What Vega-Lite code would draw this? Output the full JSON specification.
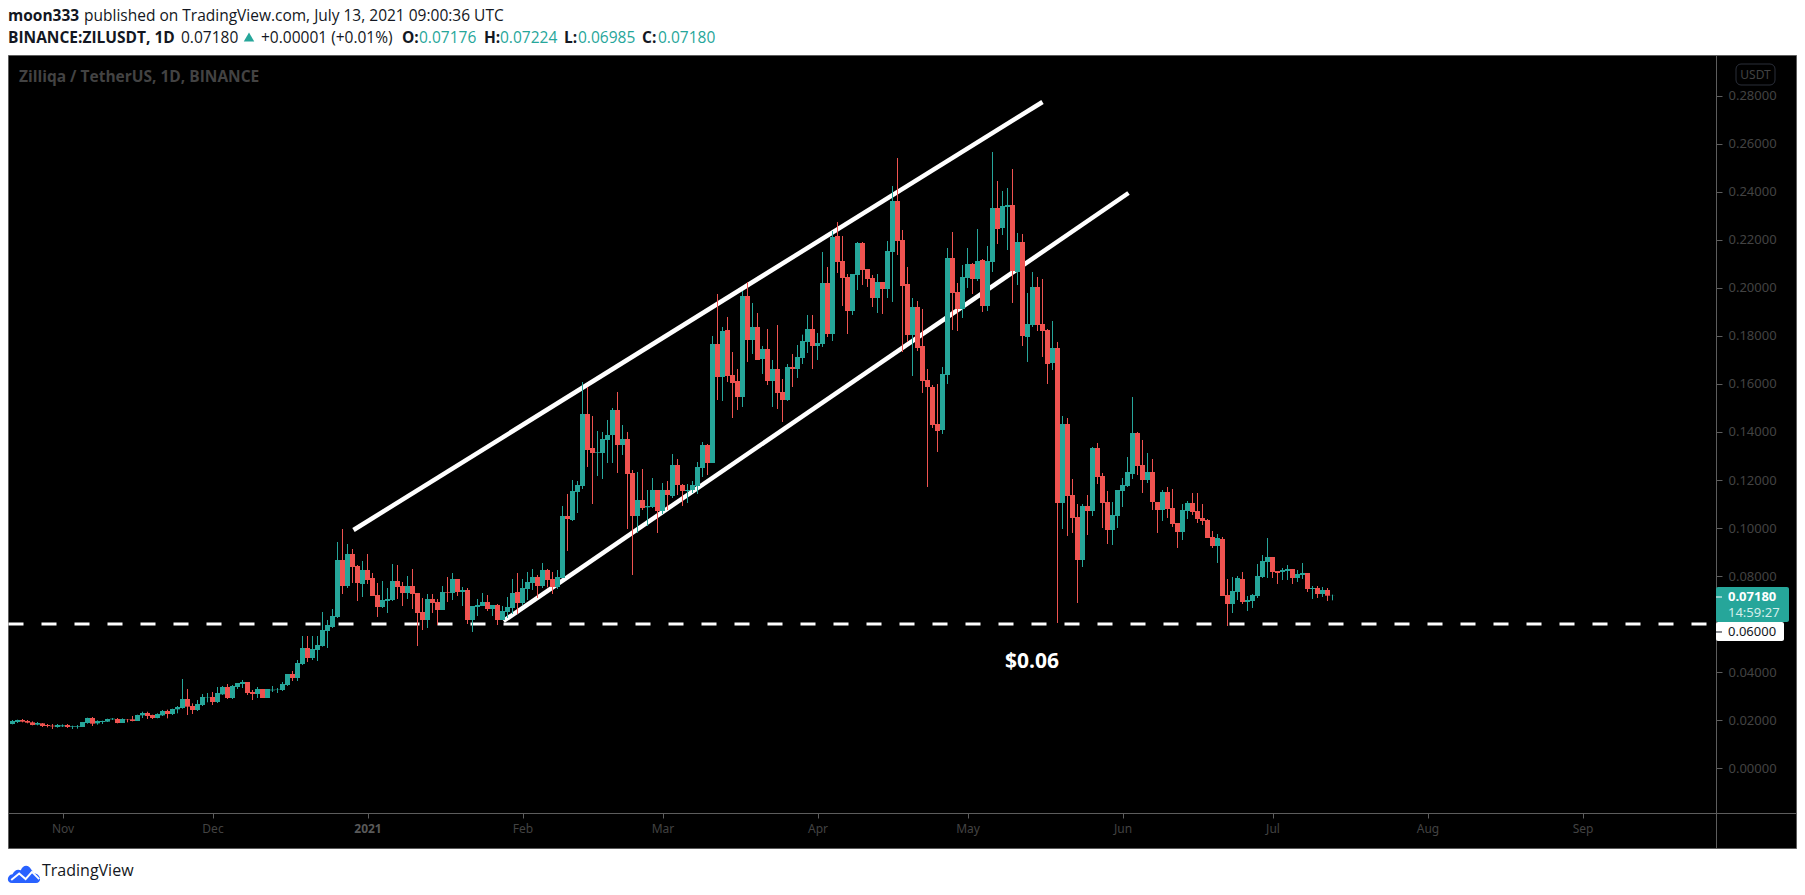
{
"$schema":"https://vega.github.io/schema/vega-lite/v6.json",
"width":1788,"height":793,
"autosize":{"type":"none"},
"padding":{"left":8,"top":55,"right":9,"bottom":47},
"background":"#ffffff",
"view":{"fill":"#000000","stroke":"#5d5d5d","strokeWidth":1},
"config":{"font":"Noto Sans"},
"datasets":{
"candles":[
{"date":"2020-10-22","o":0.01833,"h":0.02,"l":0.01819,"c":0.01958},
{"date":"2020-10-23","o":0.01917,"h":0.02014,"l":0.01875,"c":0.02},
{"date":"2020-10-24","o":0.02,"h":0.02042,"l":0.01903,"c":0.01931},
{"date":"2020-10-25","o":0.01958,"h":0.02,"l":0.01861,"c":0.01889},
{"date":"2020-10-26","o":0.01903,"h":0.01944,"l":0.01778,"c":0.01792},
{"date":"2020-10-27","o":0.01806,"h":0.01917,"l":0.01778,"c":0.01875},
{"date":"2020-10-28","o":0.01861,"h":0.01875,"l":0.01708,"c":0.0175},
{"date":"2020-10-29","o":0.01792,"h":0.01833,"l":0.01694,"c":0.0175},
{"date":"2020-10-30","o":0.01764,"h":0.01833,"l":0.01625,"c":0.01736},
{"date":"2020-10-31","o":0.01708,"h":0.01833,"l":0.01681,"c":0.01792},
{"date":"2020-11-01","o":0.01736,"h":0.01819,"l":0.01708,"c":0.01778},
{"date":"2020-11-02","o":0.01792,"h":0.01833,"l":0.01667,"c":0.01708},
{"date":"2020-11-03","o":0.01722,"h":0.01764,"l":0.01625,"c":0.0175},
{"date":"2020-11-04","o":0.01722,"h":0.01792,"l":0.01639,"c":0.0175},
{"date":"2020-11-05","o":0.01708,"h":0.01917,"l":0.01708,"c":0.01917},
{"date":"2020-11-06","o":0.01875,"h":0.02097,"l":0.01847,"c":0.02083},
{"date":"2020-11-07","o":0.02083,"h":0.02125,"l":0.0175,"c":0.01847},
{"date":"2020-11-08","o":0.01861,"h":0.01986,"l":0.01806,"c":0.01958},
{"date":"2020-11-09","o":0.01917,"h":0.01972,"l":0.01833,"c":0.01958},
{"date":"2020-11-10","o":0.01931,"h":0.02056,"l":0.01917,"c":0.02042},
{"date":"2020-11-11","o":0.02028,"h":0.02083,"l":0.02,"c":0.02056},
{"date":"2020-11-12","o":0.02042,"h":0.02083,"l":0.01861,"c":0.01875},
{"date":"2020-11-13","o":0.01875,"h":0.02069,"l":0.01875,"c":0.02042},
{"date":"2020-11-14","o":0.02042,"h":0.02042,"l":0.01903,"c":0.02028},
{"date":"2020-11-15","o":0.02028,"h":0.02167,"l":0.01944,"c":0.01958},
{"date":"2020-11-16","o":0.01958,"h":0.02222,"l":0.01958,"c":0.02208},
{"date":"2020-11-17","o":0.02194,"h":0.02347,"l":0.02083,"c":0.02292},
{"date":"2020-11-18","o":0.02292,"h":0.02347,"l":0.02042,"c":0.02167},
{"date":"2020-11-19","o":0.02208,"h":0.02222,"l":0.02042,"c":0.02083},
{"date":"2020-11-20","o":0.02083,"h":0.02278,"l":0.02069,"c":0.0225},
{"date":"2020-11-21","o":0.02194,"h":0.02417,"l":0.02167,"c":0.02375},
{"date":"2020-11-22","o":0.02375,"h":0.02431,"l":0.02069,"c":0.0225},
{"date":"2020-11-23","o":0.0225,"h":0.02472,"l":0.02208,"c":0.02458},
{"date":"2020-11-24","o":0.02444,"h":0.02583,"l":0.02278,"c":0.02542},
{"date":"2020-11-25","o":0.025,"h":0.03708,"l":0.02472,"c":0.02875},
{"date":"2020-11-26","o":0.02875,"h":0.03292,"l":0.02208,"c":0.02556},
{"date":"2020-11-27","o":0.02583,"h":0.02694,"l":0.0225,"c":0.02417},
{"date":"2020-11-28","o":0.02417,"h":0.02833,"l":0.02375,"c":0.02667},
{"date":"2020-11-29","o":0.02625,"h":0.03083,"l":0.02583,"c":0.02958},
{"date":"2020-11-30","o":0.02944,"h":0.03125,"l":0.02736,"c":0.02958},
{"date":"2020-12-01","o":0.02958,"h":0.03167,"l":0.02625,"c":0.0275},
{"date":"2020-12-02","o":0.0275,"h":0.03375,"l":0.02708,"c":0.03125},
{"date":"2020-12-03","o":0.03069,"h":0.03417,"l":0.03042,"c":0.03375},
{"date":"2020-12-04","o":0.03375,"h":0.035,"l":0.02875,"c":0.02917},
{"date":"2020-12-05","o":0.02917,"h":0.03458,"l":0.02875,"c":0.03417},
{"date":"2020-12-06","o":0.03375,"h":0.03542,"l":0.03292,"c":0.03542},
{"date":"2020-12-07","o":0.035,"h":0.03667,"l":0.03333,"c":0.03583},
{"date":"2020-12-08","o":0.03583,"h":0.03583,"l":0.03042,"c":0.03125},
{"date":"2020-12-09","o":0.03167,"h":0.0325,"l":0.02833,"c":0.03083},
{"date":"2020-12-10","o":0.03083,"h":0.03375,"l":0.02917,"c":0.03292},
{"date":"2020-12-11","o":0.03292,"h":0.03292,"l":0.02917,"c":0.02917},
{"date":"2020-12-12","o":0.02917,"h":0.03292,"l":0.02917,"c":0.03292},
{"date":"2020-12-13","o":0.03236,"h":0.03417,"l":0.03167,"c":0.03264},
{"date":"2020-12-14","o":0.0325,"h":0.03333,"l":0.03125,"c":0.03264},
{"date":"2020-12-15","o":0.0325,"h":0.03583,"l":0.03208,"c":0.035},
{"date":"2020-12-16","o":0.03458,"h":0.03917,"l":0.03417,"c":0.03917},
{"date":"2020-12-17","o":0.03917,"h":0.04042,"l":0.03625,"c":0.0375},
{"date":"2020-12-18","o":0.0375,"h":0.045,"l":0.03625,"c":0.04375},
{"date":"2020-12-19","o":0.04333,"h":0.055,"l":0.04292,"c":0.05},
{"date":"2020-12-20","o":0.05,"h":0.055,"l":0.04417,"c":0.04583},
{"date":"2020-12-21","o":0.04583,"h":0.055,"l":0.045,"c":0.04958},
{"date":"2020-12-22","o":0.04917,"h":0.055,"l":0.04458,"c":0.05125},
{"date":"2020-12-23","o":0.05083,"h":0.065,"l":0.05056,"c":0.0575},
{"date":"2020-12-24","o":0.05708,"h":0.06167,"l":0.05,"c":0.05958},
{"date":"2020-12-25","o":0.05875,"h":0.06625,"l":0.05833,"c":0.06333},
{"date":"2020-12-26","o":0.06292,"h":0.09417,"l":0.0625,"c":0.08667},
{"date":"2020-12-27","o":0.08667,"h":0.09958,"l":0.0725,"c":0.07583},
{"date":"2020-12-28","o":0.07583,"h":0.09333,"l":0.075,"c":0.08917},
{"date":"2020-12-29","o":0.08917,"h":0.09125,"l":0.07708,"c":0.08375},
{"date":"2020-12-30","o":0.08417,"h":0.08458,"l":0.06958,"c":0.07708},
{"date":"2020-12-31","o":0.07667,"h":0.08625,"l":0.07125,"c":0.0825},
{"date":"2021-01-01","o":0.0825,"h":0.08917,"l":0.07667,"c":0.07833},
{"date":"2021-01-02","o":0.07917,"h":0.08125,"l":0.07167,"c":0.07167},
{"date":"2021-01-03","o":0.07208,"h":0.07708,"l":0.06292,"c":0.06708},
{"date":"2021-01-04","o":0.06708,"h":0.07792,"l":0.06667,"c":0.07},
{"date":"2021-01-05","o":0.06958,"h":0.075,"l":0.06458,"c":0.07042},
{"date":"2021-01-06","o":0.07,"h":0.085,"l":0.06958,"c":0.07792},
{"date":"2021-01-07","o":0.07792,"h":0.08458,"l":0.07042,"c":0.07542},
{"date":"2021-01-08","o":0.07583,"h":0.0775,"l":0.0675,"c":0.07292},
{"date":"2021-01-09","o":0.07292,"h":0.08,"l":0.07042,"c":0.07583},
{"date":"2021-01-10","o":0.07583,"h":0.08292,"l":0.06625,"c":0.0725},
{"date":"2021-01-11","o":0.07292,"h":0.07292,"l":0.05083,"c":0.06458},
{"date":"2021-01-12","o":0.065,"h":0.07083,"l":0.0575,"c":0.06167},
{"date":"2021-01-13","o":0.06167,"h":0.0725,"l":0.05833,"c":0.07042},
{"date":"2021-01-14","o":0.07042,"h":0.0725,"l":0.06458,"c":0.06875},
{"date":"2021-01-15","o":0.06917,"h":0.07042,"l":0.05958,"c":0.06583},
{"date":"2021-01-16","o":0.06583,"h":0.07583,"l":0.06583,"c":0.07333},
{"date":"2021-01-17","o":0.07333,"h":0.07958,"l":0.06917,"c":0.07306},
{"date":"2021-01-18","o":0.07292,"h":0.08125,"l":0.07,"c":0.07875},
{"date":"2021-01-19","o":0.07875,"h":0.07875,"l":0.07167,"c":0.07333},
{"date":"2021-01-20","o":0.07333,"h":0.07542,"l":0.0675,"c":0.07417},
{"date":"2021-01-21","o":0.07417,"h":0.075,"l":0.06,"c":0.06167},
{"date":"2021-01-22","o":0.06167,"h":0.0675,"l":0.05667,"c":0.0675},
{"date":"2021-01-23","o":0.06708,"h":0.07042,"l":0.06333,"c":0.06792},
{"date":"2021-01-24","o":0.0675,"h":0.07292,"l":0.0675,"c":0.06917},
{"date":"2021-01-25","o":0.06917,"h":0.07208,"l":0.06542,"c":0.06625},
{"date":"2021-01-26","o":0.06625,"h":0.06792,"l":0.06333,"c":0.06792},
{"date":"2021-01-27","o":0.06792,"h":0.06833,"l":0.05958,"c":0.06167},
{"date":"2021-01-28","o":0.06167,"h":0.0675,"l":0.06167,"c":0.06542},
{"date":"2021-01-29","o":0.065,"h":0.07125,"l":0.0625,"c":0.06708},
{"date":"2021-01-30","o":0.06667,"h":0.07875,"l":0.06417,"c":0.07292},
{"date":"2021-01-31","o":0.07333,"h":0.08125,"l":0.06417,"c":0.06875},
{"date":"2021-02-01","o":0.06875,"h":0.07875,"l":0.06792,"c":0.075},
{"date":"2021-02-02","o":0.07458,"h":0.08167,"l":0.07,"c":0.0775},
{"date":"2021-02-03","o":0.07708,"h":0.08292,"l":0.07417,"c":0.07958},
{"date":"2021-02-04","o":0.07958,"h":0.08042,"l":0.07083,"c":0.07583},
{"date":"2021-02-05","o":0.07583,"h":0.08542,"l":0.075,"c":0.0825},
{"date":"2021-02-06","o":0.0825,"h":0.08292,"l":0.07528,"c":0.07833},
{"date":"2021-02-07","o":0.07875,"h":0.08167,"l":0.0725,"c":0.07542},
{"date":"2021-02-08","o":0.07542,"h":0.0825,"l":0.07458,"c":0.07958},
{"date":"2021-02-09","o":0.07917,"h":0.10917,"l":0.07917,"c":0.105},
{"date":"2021-02-10","o":0.105,"h":0.11417,"l":0.09042,"c":0.10375},
{"date":"2021-02-11","o":0.10333,"h":0.12,"l":0.10292,"c":0.11542},
{"date":"2021-02-12","o":0.115,"h":0.11958,"l":0.10625,"c":0.11792},
{"date":"2021-02-13","o":0.1175,"h":0.16083,"l":0.11625,"c":0.1475},
{"date":"2021-02-14","o":0.1475,"h":0.15875,"l":0.12542,"c":0.1325},
{"date":"2021-02-15","o":0.13333,"h":0.14667,"l":0.11,"c":0.13125},
{"date":"2021-02-16","o":0.13139,"h":0.14042,"l":0.12167,"c":0.13167},
{"date":"2021-02-17","o":0.13125,"h":0.14,"l":0.12042,"c":0.13708},
{"date":"2021-02-18","o":0.13667,"h":0.145,"l":0.12708,"c":0.13875},
{"date":"2021-02-19","o":0.13875,"h":0.15,"l":0.12708,"c":0.14917},
{"date":"2021-02-20","o":0.14917,"h":0.15667,"l":0.12292,"c":0.13458},
{"date":"2021-02-21","o":0.13458,"h":0.14292,"l":0.13042,"c":0.13708},
{"date":"2021-02-22","o":0.13708,"h":0.14,"l":0.09958,"c":0.1225},
{"date":"2021-02-23","o":0.12292,"h":0.12417,"l":0.08042,"c":0.105},
{"date":"2021-02-24","o":0.105,"h":0.12333,"l":0.09792,"c":0.11167},
{"date":"2021-02-25","o":0.11167,"h":0.12458,"l":0.1075,"c":0.10833},
{"date":"2021-02-26","o":0.10861,"h":0.11583,"l":0.10083,"c":0.10917},
{"date":"2021-02-27","o":0.10875,"h":0.12083,"l":0.10833,"c":0.11583},
{"date":"2021-02-28","o":0.11583,"h":0.11583,"l":0.09792,"c":0.10708},
{"date":"2021-03-01","o":0.10708,"h":0.11875,"l":0.10583,"c":0.11583},
{"date":"2021-03-02","o":0.11583,"h":0.11958,"l":0.1075,"c":0.11375},
{"date":"2021-03-03","o":0.11333,"h":0.13083,"l":0.1125,"c":0.12625},
{"date":"2021-03-04","o":0.12625,"h":0.12875,"l":0.11375,"c":0.11792},
{"date":"2021-03-05","o":0.11792,"h":0.11833,"l":0.10917,"c":0.11542},
{"date":"2021-03-06","o":0.11542,"h":0.11833,"l":0.11042,"c":0.11583},
{"date":"2021-03-07","o":0.11583,"h":0.11958,"l":0.11458,"c":0.11792},
{"date":"2021-03-08","o":0.1175,"h":0.1275,"l":0.11417,"c":0.12542},
{"date":"2021-03-09","o":0.125,"h":0.13583,"l":0.12125,"c":0.13458},
{"date":"2021-03-10","o":0.13458,"h":0.135,"l":0.12208,"c":0.12708},
{"date":"2021-03-11","o":0.12708,"h":0.18,"l":0.12708,"c":0.17667},
{"date":"2021-03-12","o":0.17667,"h":0.1975,"l":0.15333,"c":0.16292},
{"date":"2021-03-13","o":0.16292,"h":0.18375,"l":0.15292,"c":0.18208},
{"date":"2021-03-14","o":0.1825,"h":0.18792,"l":0.16083,"c":0.16333},
{"date":"2021-03-15","o":0.16375,"h":0.17333,"l":0.14583,"c":0.16042},
{"date":"2021-03-16","o":0.16125,"h":0.16625,"l":0.14917,"c":0.15458},
{"date":"2021-03-17","o":0.15458,"h":0.19875,"l":0.15042,"c":0.19667},
{"date":"2021-03-18","o":0.19667,"h":0.2025,"l":0.16917,"c":0.17833},
{"date":"2021-03-19","o":0.17833,"h":0.19375,"l":0.1725,"c":0.18375},
{"date":"2021-03-20","o":0.18375,"h":0.18958,"l":0.17,"c":0.17},
{"date":"2021-03-21","o":0.17042,"h":0.17583,"l":0.16417,"c":0.17458},
{"date":"2021-03-22","o":0.17458,"h":0.18292,"l":0.15958,"c":0.16125},
{"date":"2021-03-23","o":0.16125,"h":0.17,"l":0.15042,"c":0.16625},
{"date":"2021-03-24","o":0.16625,"h":0.18458,"l":0.14958,"c":0.15625},
{"date":"2021-03-25","o":0.15667,"h":0.16208,"l":0.14417,"c":0.15333},
{"date":"2021-03-26","o":0.15333,"h":0.16833,"l":0.15292,"c":0.16708},
{"date":"2021-03-27","o":0.16708,"h":0.1725,"l":0.15875,"c":0.16625},
{"date":"2021-03-28","o":0.16625,"h":0.17625,"l":0.1625,"c":0.17125},
{"date":"2021-03-29","o":0.17083,"h":0.18056,"l":0.16833,"c":0.17792},
{"date":"2021-03-30","o":0.1775,"h":0.18875,"l":0.17292,"c":0.18292},
{"date":"2021-03-31","o":0.18292,"h":0.18875,"l":0.16625,"c":0.17583},
{"date":"2021-04-01","o":0.17583,"h":0.18125,"l":0.17,"c":0.17708},
{"date":"2021-04-02","o":0.17667,"h":0.215,"l":0.17542,"c":0.20208},
{"date":"2021-04-03","o":0.20208,"h":0.20875,"l":0.17958,"c":0.18083},
{"date":"2021-04-04","o":0.18083,"h":0.22375,"l":0.17792,"c":0.22125},
{"date":"2021-04-05","o":0.22167,"h":0.2275,"l":0.20625,"c":0.21083},
{"date":"2021-04-06","o":0.21125,"h":0.22167,"l":0.1925,"c":0.20417},
{"date":"2021-04-07","o":0.20458,"h":0.20583,"l":0.18083,"c":0.19042},
{"date":"2021-04-08","o":0.19042,"h":0.20583,"l":0.18875,"c":0.20583},
{"date":"2021-04-09","o":0.20542,"h":0.21917,"l":0.19917,"c":0.21875},
{"date":"2021-04-10","o":0.21875,"h":0.21917,"l":0.20125,"c":0.2075},
{"date":"2021-04-11","o":0.20792,"h":0.20792,"l":0.20042,"c":0.20375},
{"date":"2021-04-12","o":0.20417,"h":0.20542,"l":0.19208,"c":0.19583},
{"date":"2021-04-13","o":0.19583,"h":0.20583,"l":0.18958,"c":0.2025},
{"date":"2021-04-14","o":0.2025,"h":0.2025,"l":0.18917,"c":0.19958},
{"date":"2021-04-15","o":0.19958,"h":0.21958,"l":0.19583,"c":0.21542},
{"date":"2021-04-16","o":0.215,"h":0.2425,"l":0.19417,"c":0.23625},
{"date":"2021-04-17","o":0.23625,"h":0.25417,"l":0.21375,"c":0.21958},
{"date":"2021-04-18","o":0.22,"h":0.22417,"l":0.17333,"c":0.20083},
{"date":"2021-04-19","o":0.20167,"h":0.20875,"l":0.1775,"c":0.18042},
{"date":"2021-04-20","o":0.18042,"h":0.19583,"l":0.16333,"c":0.19208},
{"date":"2021-04-21","o":0.19208,"h":0.19458,"l":0.17375,"c":0.175},
{"date":"2021-04-22","o":0.17583,"h":0.19125,"l":0.15625,"c":0.16125},
{"date":"2021-04-23","o":0.16167,"h":0.16625,"l":0.11708,"c":0.15875},
{"date":"2021-04-24","o":0.15875,"h":0.15958,"l":0.14167,"c":0.14292},
{"date":"2021-04-25","o":0.14333,"h":0.16,"l":0.13167,"c":0.14042},
{"date":"2021-04-26","o":0.14083,"h":0.16708,"l":0.13917,"c":0.16417},
{"date":"2021-04-27","o":0.16375,"h":0.21667,"l":0.16,"c":0.2125},
{"date":"2021-04-28","o":0.2125,"h":0.22333,"l":0.1825,"c":0.19792},
{"date":"2021-04-29","o":0.19833,"h":0.20208,"l":0.18208,"c":0.19125},
{"date":"2021-04-30","o":0.19125,"h":0.20958,"l":0.1875,"c":0.20458},
{"date":"2021-05-01","o":0.20417,"h":0.21667,"l":0.2,"c":0.21},
{"date":"2021-05-02","o":0.21,"h":0.21042,"l":0.1975,"c":0.20375},
{"date":"2021-05-03","o":0.20375,"h":0.22458,"l":0.20292,"c":0.21125},
{"date":"2021-05-04","o":0.21167,"h":0.21208,"l":0.19,"c":0.1925},
{"date":"2021-05-05","o":0.1925,"h":0.2175,"l":0.19042,"c":0.21125},
{"date":"2021-05-06","o":0.21083,"h":0.25667,"l":0.20667,"c":0.23333},
{"date":"2021-05-07","o":0.23333,"h":0.24458,"l":0.21833,"c":0.22458},
{"date":"2021-05-08","o":0.225,"h":0.24042,"l":0.22208,"c":0.23417},
{"date":"2021-05-09","o":0.23375,"h":0.24167,"l":0.21583,"c":0.23458},
{"date":"2021-05-10","o":0.23458,"h":0.24958,"l":0.19375,"c":0.20708},
{"date":"2021-05-11","o":0.20667,"h":0.22292,"l":0.20125,"c":0.21917},
{"date":"2021-05-12","o":0.21917,"h":0.2225,"l":0.17583,"c":0.18},
{"date":"2021-05-13","o":0.17958,"h":0.19792,"l":0.16917,"c":0.185},
{"date":"2021-05-14","o":0.18458,"h":0.20667,"l":0.18375,"c":0.20042},
{"date":"2021-05-15","o":0.20042,"h":0.20458,"l":0.18208,"c":0.18458},
{"date":"2021-05-16","o":0.185,"h":0.20375,"l":0.17125,"c":0.18208},
{"date":"2021-05-17","o":0.1825,"h":0.18292,"l":0.16,"c":0.16833},
{"date":"2021-05-18","o":0.16875,"h":0.18625,"l":0.16583,"c":0.175},
{"date":"2021-05-19","o":0.175,"h":0.1775,"l":0.06042,"c":0.11042},
{"date":"2021-05-20","o":0.11042,"h":0.14667,"l":0.09958,"c":0.14333},
{"date":"2021-05-21","o":0.14333,"h":0.14583,"l":0.09667,"c":0.11333},
{"date":"2021-05-22","o":0.11375,"h":0.12042,"l":0.09792,"c":0.10417},
{"date":"2021-05-23","o":0.10458,"h":0.11,"l":0.06875,"c":0.08667},
{"date":"2021-05-24","o":0.08667,"h":0.11,"l":0.08375,"c":0.10917},
{"date":"2021-05-25","o":0.10917,"h":0.11375,"l":0.09708,"c":0.10708},
{"date":"2021-05-26","o":0.10708,"h":0.13375,"l":0.105,"c":0.13333},
{"date":"2021-05-27","o":0.13333,"h":0.13542,"l":0.11833,"c":0.12125},
{"date":"2021-05-28","o":0.12167,"h":0.12292,"l":0.1,"c":0.11042},
{"date":"2021-05-29","o":0.11083,"h":0.11542,"l":0.09333,"c":0.09917},
{"date":"2021-05-30","o":0.09917,"h":0.11083,"l":0.09292,"c":0.10542},
{"date":"2021-05-31","o":0.105,"h":0.11583,"l":0.1,"c":0.11583},
{"date":"2021-06-01","o":0.11542,"h":0.12083,"l":0.10875,"c":0.11792},
{"date":"2021-06-02","o":0.1175,"h":0.12958,"l":0.11708,"c":0.12333},
{"date":"2021-06-03","o":0.1225,"h":0.15458,"l":0.12042,"c":0.13958},
{"date":"2021-06-04","o":0.13958,"h":0.14,"l":0.12208,"c":0.12583},
{"date":"2021-06-05","o":0.12625,"h":0.13667,"l":0.11458,"c":0.12},
{"date":"2021-06-06","o":0.12,"h":0.13125,"l":0.11875,"c":0.12333},
{"date":"2021-06-07","o":0.12333,"h":0.12875,"l":0.1075,"c":0.11083},
{"date":"2021-06-08","o":0.11083,"h":0.11083,"l":0.09792,"c":0.1075},
{"date":"2021-06-09","o":0.1075,"h":0.11583,"l":0.10292,"c":0.115},
{"date":"2021-06-10","o":0.115,"h":0.11708,"l":0.10417,"c":0.10792},
{"date":"2021-06-11","o":0.10833,"h":0.11625,"l":0.10042,"c":0.10167},
{"date":"2021-06-12","o":0.10208,"h":0.10208,"l":0.09167,"c":0.09833},
{"date":"2021-06-13","o":0.09833,"h":0.11,"l":0.095,"c":0.1075},
{"date":"2021-06-14","o":0.10708,"h":0.11125,"l":0.10375,"c":0.11042},
{"date":"2021-06-15","o":0.11042,"h":0.11458,"l":0.10542,"c":0.10667},
{"date":"2021-06-16","o":0.10708,"h":0.11458,"l":0.10208,"c":0.10375},
{"date":"2021-06-17","o":0.10417,"h":0.11,"l":0.10125,"c":0.10292},
{"date":"2021-06-18","o":0.10333,"h":0.10375,"l":0.09583,"c":0.09583},
{"date":"2021-06-19","o":0.09625,"h":0.09875,"l":0.09167,"c":0.0925},
{"date":"2021-06-20","o":0.0925,"h":0.0975,"l":0.08542,"c":0.09583},
{"date":"2021-06-21","o":0.09542,"h":0.09625,"l":0.07167,"c":0.07167},
{"date":"2021-06-22","o":0.07208,"h":0.07875,"l":0.05917,"c":0.06833},
{"date":"2021-06-23","o":0.06833,"h":0.07958,"l":0.06458,"c":0.07375},
{"date":"2021-06-24","o":0.07333,"h":0.08,"l":0.07,"c":0.07917},
{"date":"2021-06-25","o":0.07875,"h":0.08167,"l":0.06833,"c":0.06917},
{"date":"2021-06-26","o":0.06917,"h":0.07167,"l":0.06542,"c":0.07},
{"date":"2021-06-27","o":0.06958,"h":0.0725,"l":0.06667,"c":0.07208},
{"date":"2021-06-28","o":0.07167,"h":0.085,"l":0.07083,"c":0.08},
{"date":"2021-06-29","o":0.07958,"h":0.08875,"l":0.07917,"c":0.08625},
{"date":"2021-06-30","o":0.08583,"h":0.09583,"l":0.07917,"c":0.08792},
{"date":"2021-07-01","o":0.08792,"h":0.08792,"l":0.07917,"c":0.08167},
{"date":"2021-07-02","o":0.08208,"h":0.08208,"l":0.07667,"c":0.08125},
{"date":"2021-07-03","o":0.08167,"h":0.08333,"l":0.07833,"c":0.0825},
{"date":"2021-07-04","o":0.08208,"h":0.08458,"l":0.07833,"c":0.08292},
{"date":"2021-07-05","o":0.08292,"h":0.08292,"l":0.07667,"c":0.07917},
{"date":"2021-07-06","o":0.07917,"h":0.0825,"l":0.0775,"c":0.08083},
{"date":"2021-07-07","o":0.08042,"h":0.08542,"l":0.07875,"c":0.08125},
{"date":"2021-07-08","o":0.08125,"h":0.08125,"l":0.07333,"c":0.07458},
{"date":"2021-07-09","o":0.07458,"h":0.07583,"l":0.07042,"c":0.075},
{"date":"2021-07-10","o":0.075,"h":0.07583,"l":0.07083,"c":0.0725},
{"date":"2021-07-11","o":0.0725,"h":0.07542,"l":0.07125,"c":0.07417},
{"date":"2021-07-12","o":0.07417,"h":0.075,"l":0.06958,"c":0.07179},
{"date":"2021-07-13","o":0.07176,"h":0.07224,"l":0.06985,"c":0.0718}
],
"levels":[
{"name":"top","date":"2020-12-29T04:48:00Z","price":0.09917},
{"name":"top","date":"2021-05-16T00:00:00Z","price":0.2775},
{"name":"bottom","date":"2021-01-28T04:48:00Z","price":0.06125},
{"name":"bottom","date":"2021-06-02T04:48:00Z","price":0.23958}
],
"support":[
{"date":"2020-10-21T04:48:00Z","price":0.06},
{"date":"2021-09-27T16:48:00Z","price":0.06}
],
"boxes":[
{"kind":"last","date":"2021-09-27T16:48:00Z","date2":"2021-10-12T07:12:00Z","price":0.07542,"price2":0.06083},
{"kind":"level","date":"2021-09-27T16:48:00Z","date2":"2021-10-11T07:12:00Z","price":0.06083,"price2":0.05292}
],
"unit":[
{"date":"2021-10-01T16:48:00Z","date2":"2021-10-09T12:00:00Z","price":0.29333,"price2":0.28458}
],
"ticks":[
{"kind":"last","date":"2021-09-27T16:48:00Z","date2":"2021-09-28T21:36:00Z","price":0.07125},
{"kind":"level","date":"2021-09-27T16:48:00Z","date2":"2021-09-28T21:36:00Z","price":0.05667}
],
"notes":[
{"kind":"headBold","label":"moon333","date":"2020-10-21T02:24:00Z","price":0.31333},
{"kind":"headText","label":"published on TradingView.com, July 13, 2021 09:00:36 UTC","date":"2020-11-05T07:12:00Z","price":0.31333},
{"kind":"headBold","label":"BINANCE:ZILUSDT, 1D","date":"2020-10-21T02:24:00Z","price":0.30417},
{"kind":"headText","label":"0.07180","date":"2020-11-24T16:48:00Z","price":0.30417},
{"kind":"headText","label":"+0.00001 (+0.01%)","date":"2020-12-10T16:48:00Z","price":0.30417},
{"kind":"headBold","label":"O:","date":"2021-01-07T21:36:00Z","price":0.30417},
{"kind":"headValue","label":"0.07176","date":"2021-01-11T07:12:00Z","price":0.30417},
{"kind":"headBold","label":"H:","date":"2021-01-24T07:12:00Z","price":0.30417},
{"kind":"headValue","label":"0.07224","date":"2021-01-27T12:00:00Z","price":0.30417},
{"kind":"headBold","label":"L:","date":"2021-02-09T07:12:00Z","price":0.30417},
{"kind":"headValue","label":"0.06985","date":"2021-02-12T02:24:00Z","price":0.30417},
{"kind":"headBold","label":"C:","date":"2021-02-24T21:36:00Z","price":0.30417},
{"kind":"headValue","label":"0.07180","date":"2021-02-28T02:24:00Z","price":0.30417},
{"kind":"foot","label":"TradingView","date":"2020-10-27T21:36:00Z","price":-0.04292},
{"kind":"watermark","label":"Zilliqa / TetherUS, 1D, BINANCE","date":"2020-10-23T07:12:00Z","price":0.28792},
{"kind":"unit","label":"USDT","date":"2021-10-05T14:24:00Z","price":0.28875},
{"kind":"lastBold","label":"0.07180","date":"2021-09-30T02:24:00Z","price":0.07125},
{"kind":"lastTime","label":"14:59:27","date":"2021-09-30T02:24:00Z","price":0.06458},
{"kind":"levelLabel","label":"0.06000","date":"2021-09-30T02:24:00Z","price":0.05667},
{"kind":"call","label":"$0.06","date":"2021-05-13T21:36:00Z","price":0.04417}
],
"logo":[{"date":"2020-10-24T07:12:00Z","price":-0.04396}],
"arrow":[{"date":"2020-12-08T07:12:00Z","price":0.30458}]
},
"encoding":{
"x":{"field":"date","type":"temporal","title":null,
"scale":{"type":"utc","padding":0,"domain":["2020-10-21T02:24:00Z","2021-10-13T16:48:00Z"]},
"axis":{"orient":"bottom","offset":-35,"grid":false,"values":["2020-11-01T00:00:00Z","2020-12-01T00:00:00Z","2021-01-01T00:00:00Z","2021-02-01T00:00:00Z","2021-03-01T00:00:00Z","2021-04-01T00:00:00Z","2021-05-01T00:00:00Z","2021-06-01T00:00:00Z","2021-07-01T00:00:00Z","2021-08-01T00:00:00Z","2021-09-01T00:00:00Z"],
"labelExpr":"utcFormat(datum.value,'%m')=='01' ? '2021' : utcFormat(datum.value,'%b')",
"labelColor":{"condition":{"test":"utcFormat(datum.value,'%m')=='01'","value":"#5a5a5a"},"value":"#434343"},
"labelFontWeight":{"condition":{"test":"utcFormat(datum.value,'%m')=='01'","value":"bold"},"value":"normal"},
"labelFont":"Noto Sans","labelFontSize":12,"labelPadding":5,"labelFlush":false,"labelOverlap":false,
"domainColor":"#5d5d5d","tickColor":"#5d5d5d","tickSize":5,"zindex":0}},
"y":{"field":"price","type":"quantitative","title":null,
"scale":{"domain":[-0.03333,0.29708],"nice":false,"zero":false},
"axis":{"orient":"right","offset":-80,"grid":false,"values":[0,0.02,0.04,0.08,0.1,0.12,0.14,0.16,0.18,0.2,0.22,0.24,0.26,0.28],"format":".5f",
"labelColor":"#434343","labelFont":"Noto Sans","labelFontSize":13,"labelPadding":6,"labelOverlap":false,"labelFlush":false,
"domainColor":"#5d5d5d","tickColor":"#5d5d5d","tickSize":6,"zindex":0}}
},
"layer":[
{"data":{"name":"levels"},"mark":{"type":"line","color":"#ffffff","strokeWidth":4.5,"strokeCap":"butt"},"encoding":{"detail":{"field":"name"}}},
{"data":{"name":"support"},"mark":{"type":"line","color":"#ffffff","strokeWidth":3,"strokeDash":[15,18],"strokeCap":"butt"},"encoding":{}},
{"data":{"name":"candles"},"mark":{"type":"rule","strokeWidth":1},
"encoding":{
"y":{"field":"l","type":"quantitative","title":null,"scale":{"domain":[-0.03333,0.29708],"nice":false,"zero":false},"axis":{"orient":"right","offset":-80,"grid":false,"values":[0,0.02,0.04,0.08,0.1,0.12,0.14,0.16,0.18,0.2,0.22,0.24,0.26,0.28],"format":".5f","labelColor":"#434343","labelFont":"Noto Sans","labelFontSize":13,"labelPadding":6,"labelOverlap":false,"labelFlush":false,"domainColor":"#5d5d5d","tickColor":"#5d5d5d","tickSize":6,"zindex":0}},
"y2":{"field":"h"},
"color":{"condition":{"test":"datum.c>=datum.o","value":"#26a69a"},"value":"#ef5350"}}},
{"data":{"name":"candles"},"mark":{"type":"bar","width":5},
"encoding":{
"y":{"field":"o","type":"quantitative","title":null,"scale":{"domain":[-0.03333,0.29708],"nice":false,"zero":false},"axis":{"orient":"right","offset":-80,"grid":false,"values":[0,0.02,0.04,0.08,0.1,0.12,0.14,0.16,0.18,0.2,0.22,0.24,0.26,0.28],"format":".5f","labelColor":"#434343","labelFont":"Noto Sans","labelFontSize":13,"labelPadding":6,"labelOverlap":false,"labelFlush":false,"domainColor":"#5d5d5d","tickColor":"#5d5d5d","tickSize":6,"zindex":0}},
"y2":{"field":"c"},
"color":{"condition":{"test":"datum.c>=datum.o","value":"#26a69a"},"value":"#ef5350"}}},
{"data":{"name":"boxes"},"mark":{"type":"rect","cornerRadius":2},
"encoding":{"x2":{"field":"date2"},"y2":{"field":"price2"},
"color":{"condition":{"test":"datum.kind=='last'","value":"#26a69a"},"value":"#ffffff"}}},
{"data":{"name":"unit"},"mark":{"type":"rect","cornerRadius":5,"fill":"#000000","stroke":"#2a2e39","strokeWidth":1},
"encoding":{"x2":{"field":"date2"},"y2":{"field":"price2"}}},
{"data":{"name":"ticks"},"mark":{"type":"rule","strokeWidth":1},
"encoding":{"x2":{"field":"date2"},
"color":{"condition":{"test":"datum.kind=='last'","value":"#ffffff"},"value":"#131722"}}},
{"data":{"name":"arrow"},"mark":{"type":"point","shape":"triangle-up","filled":true,"size":110,"color":"#26a69a","opacity":1},"encoding":{}},
{"data":{"name":"logo"},"mark":{"type":"point","filled":true,"opacity":1,"color":"#2962ff","size":1024,"shape":"M-0.75,0.6 C-1.1,0.6 -1.1,0.1 -0.72,0.05 C-0.62,-0.2 -0.4,-0.3 -0.2,-0.2 C-0.1,-0.55 0.3,-0.6 0.45,-0.25 C0.6,-0.1 0.55,-0.05 0.7,0 C1.1,0.1 1.1,0.6 0.75,0.6 Z"},"encoding":{}},
{"data":{"name":"logo"},"mark":{"type":"point","filled":false,"opacity":1,"color":"#ffffff","strokeWidth":2,"size":1024,"shape":"M-0.8,0.4 L-0.3,0 L0.1,0.35 L0.5,-0.1 L0.95,0.35"},"encoding":{}},
{"data":{"name":"notes"},"transform":[{"filter":"datum.kind=='headBold'"}],"mark":{"type":"text","align":"left","baseline":"middle","font":"Open Sans","fontSize":15.5,"fontWeight":"bold","color":"#131722"},"encoding":{"text":{"field":"label"}}},
{"data":{"name":"notes"},"transform":[{"filter":"datum.kind=='headText'"}],"mark":{"type":"text","align":"left","baseline":"middle","font":"Open Sans","fontSize":15.5,"color":"#131722"},"encoding":{"text":{"field":"label"}}},
{"data":{"name":"notes"},"transform":[{"filter":"datum.kind=='headValue'"}],"mark":{"type":"text","align":"left","baseline":"middle","font":"Open Sans","fontSize":15.5,"color":"#26a69a"},"encoding":{"text":{"field":"label"}}},
{"data":{"name":"notes"},"transform":[{"filter":"datum.kind=='foot'"}],"mark":{"type":"text","align":"left","baseline":"middle","font":"Open Sans","fontSize":16,"color":"#131722"},"encoding":{"text":{"field":"label"}}},
{"data":{"name":"notes"},"transform":[{"filter":"datum.kind=='watermark'"}],"mark":{"type":"text","align":"left","baseline":"middle","font":"Open Sans","fontSize":15.5,"fontWeight":"bold","color":"#434343"},"encoding":{"text":{"field":"label"}}},
{"data":{"name":"notes"},"transform":[{"filter":"datum.kind=='unit'"}],"mark":{"type":"text","align":"center","baseline":"middle","font":"Noto Sans","fontSize":12,"color":"#434343"},"encoding":{"text":{"field":"label"}}},
{"data":{"name":"notes"},"transform":[{"filter":"datum.kind=='lastBold'"}],"mark":{"type":"text","align":"left","baseline":"middle","font":"Noto Sans","fontSize":13,"fontWeight":"bold","color":"#ffffff"},"encoding":{"text":{"field":"label"}}},
{"data":{"name":"notes"},"transform":[{"filter":"datum.kind=='lastTime'"}],"mark":{"type":"text","align":"left","baseline":"middle","font":"Noto Sans","fontSize":13,"color":"#d4eeeb"},"encoding":{"text":{"field":"label"}}},
{"data":{"name":"notes"},"transform":[{"filter":"datum.kind=='levelLabel'"}],"mark":{"type":"text","align":"left","baseline":"middle","font":"Noto Sans","fontSize":13,"color":"#131722"},"encoding":{"text":{"field":"label"}}},
{"data":{"name":"notes"},"transform":[{"filter":"datum.kind=='call'"}],"mark":{"type":"text","align":"center","baseline":"middle","font":"Open Sans","fontSize":21,"fontWeight":"bold","color":"#ffffff"},"encoding":{"text":{"field":"label"}}}
]
}
